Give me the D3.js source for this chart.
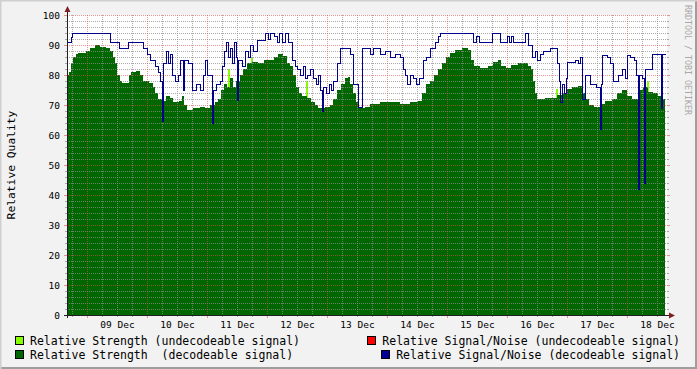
<!DOCTYPE html>
<html>
<head>
<meta charset="utf-8">
<script src="https://cdn.jsdelivr.net/npm/d3@7"></script>
<style>
  body { margin: 0; background: #f2f2f2; }
  svg { display: block; font-family: "DejaVu Sans Mono", monospace; }
  text { white-space: pre; }
</style>
</head>
<body>
<svg width="697" height="369"></svg>
<script>
// hours after 08 Dec 16:00 -> value (step changes, RRD style)
const strengthHours = [0,0.8,1.6,2.4,3.6,4.4,7.6,9.2,11.2,13.2,15.6,17.2,18.4,19.2,20,21.2,22,24.8,25.6,27.6,29.2,30.4,32.8,34.4,35.2,36.4,38.4,39.6,41.2,42.4,44.8,46,46.8,48,50.4,53.2,55.2,57.2,59.2,60.4,61.6,62.8,64,65.2,66.4,67.6,69.2,70.4,72,74,76.4,78.8,81.2,82.8,84.4,86.4,88,89.2,90.4,91.6,92.8,94,96,97.6,99.2,100.4,103.2,105.2,106.4,108,109.6,111.2,112.4,113.2,114.4,115.6,116.4,119.2,121.2,125.2,129.2,133.2,137.2,140.4,142,143.6,145.2,146.8,148.4,150,151.6,153.2,155.2,158,160.4,161.6,162.8,165.2,168.4,170.4,172.4,173.6,175.6,177.6,180.4,182.8,184.4,185.6,186.4,187.2,188,191.2,194,196,198,200,202,204.4,206.4,207.6,208.8,210.8,213.2,215.2,218,220,222,224,226,228.4,230.4,232.4,234.4,236.4,238.4,239.2];
const strengthValues = [80,81,84,86,87,87.5,88,89,90,89.5,89,88,86,84,80,78,77.3,80,81,81.5,80,78,77.5,76,74,72,71.5,73,72.5,71,71.5,73,70,68.5,69,69.5,69,70,71,72,75,77,76,79,76,78,80,82,84,84.5,84,85,85,86,87,86.5,84,83,80,76,74,73,72.5,71,70,69,69.5,70,72,75,77,79,79.3,77,74,71,69,69.5,70.5,71,71,70.5,71,71.5,74,77,78,80,82,84,86,87.5,88.5,89,88.5,85,83,82.5,83,84.5,85,83,82.5,83.5,84,84,83,82,78,74,72,72.5,72.5,73.5,74,75.5,76,76.5,74,72,70,69.5,70.5,71.5,72,74,75,73,72,75,76,74.5,74,73,72,72];

const weakHours = [0,64.4,65.2,73.6,74.4,95.6,96.4,195.6,196.4,232,232.8,239.2];
const weakValues = [0,82,0,86,0,78,0,75.5,0,78,0,0];

const snrHours = [0,1.6,2,17.2,20.8,24.4,30.4,32,33.2,35.2,36.4,37.2,38,38.4,39.6,40.4,41.2,42,43.2,44.4,45.2,46.4,46.8,48.4,50,51.6,53.2,54.4,55.2,56,58,58.4,59.6,61.2,62,62.8,63.6,64.4,65.2,66,66.8,67.6,68,68.4,70,71.2,72.4,73.2,74.4,76,79.2,80.4,81.2,82.8,84,84.8,86,87.2,88.4,90,91.2,92,93.2,94.4,95.2,96,97.2,98.4,99.6,100.4,101.2,102,102.4,103.6,104.8,105.6,106.4,108,109.2,113.2,114.4,116.4,118,121.2,122.4,125.2,127.2,129.2,131.2,133.2,134.4,135.2,136,137.2,138.4,139.6,140.8,142.4,143.6,145.2,147.2,148.4,149.2,162.4,163.6,164.8,170,173.2,176,176.8,177.6,178.4,183.2,184.4,186,187.2,188,189.2,190.4,193.2,196,196.8,197.2,198,198.8,199.6,200,203.2,204.4,205.2,206,207.2,209.2,211.6,213.2,213.6,214,216,217.2,218.4,220.4,222,223.2,224,225.2,226.8,227.6,228.4,228.8,230,230.8,231.2,234,237.2,237.6,238,239.2];
const snrValues = [91,92.5,94,91,89,91,89,87,85,83,81,78,64.5,84,88,84,87,80,78,80,85,75,85,84,75,77,75,80,85,80,64,75,77,78,83,88,91,86,89,84,91,86,71.7,85,83,88,86,90,88,91.5,94,92,94,93,91,94,91,94,91,85,83,82,80,83,79,80,82,79,77,80,75,68,76,74,77,75,78,84,89,87,77,69.5,89,87,89,87,88,86,87,86,82,80,77,80,79,77,79,85,86,89,91,93,94,91,93,91,94,91,93,91,93,91,94,90,86,88,85,87,88,89,84,78,71,77,74,79,84.5,85,84,86,72,80,77,76,62,77,86.7,86,84,78,80,82,79,86.7,86,85,80,42,80,79,44,82,87,87,69,87,87];

const yTicks = [0,10,20,30,40,50,60,70,80,90,100];
const legendLeft = ["Relative Strength (undecodeable signal)", "Relative Strength  (decodeable signal)"];
const legendRight = ["Relative Signal/Noise (undecodeable signal)", "Relative Signal/Noise (decodeable signal)"];

const start = new Date(2012, 11, 8, 16);
const end = new Date(2012, 11, 18, 16);
const toDate = h => new Date(start.getTime() + h * 3600e3);
const pack = (hs, vs) => hs.map((h, i) => ({ t: toDate(h), v: vs[i] }));

const svg = d3.select("svg");
const W = 697, H = 369;
const pLeft = 67, pRight = 667, pTop = 15, pBottom = 315;

// frame
svg.append("rect").attr("width", W).attr("height", H).attr("fill", "#f2f2f2");
svg.append("path").attr("d", `M0,${H - 0.5}H${W - 0.5}V0`).attr("fill", "none").attr("stroke", "#9e9e9e").attr("stroke-width", 3);
svg.append("path").attr("d", `M0.5,${H}V0.5H${W}`).attr("fill", "none").attr("stroke", "#cfcfcf").attr("stroke-width", 2);

const x = d3.scaleTime().domain([start, end]).range([pLeft, pRight]);
const y = d3.scaleLinear().domain([0, 100]).range([pBottom, pTop]);

svg.append("rect").attr("x", pLeft).attr("y", pTop).attr("width", pRight - pLeft).attr("height", pBottom - pTop).attr("fill", "#fff");

const area = d3.area().x(d => x(d.t)).y0(y(0)).y1(d => y(d.v)).curve(d3.curveStepAfter);

svg.append("path").datum(pack(weakHours, weakValues)).attr("d", area).attr("fill", "#88ff00").attr("shape-rendering", "crispEdges");
svg.append("path").datum(pack(strengthHours, strengthValues)).attr("d", area).attr("fill", "#006600").attr("shape-rendering", "crispEdges");

// grid
const grid = svg.append("g").attr("shape-rendering", "crispEdges");
const minorX = d3.timeHour.every(6).range(start, end).filter(d => d.getHours() !== 0);
const majorX = d3.timeDay.range(start, end);
const minorY = d3.range(0, 101, 2).filter(v => v % 10 !== 0);
const gridMinor = "rgba(143,143,143,0.75)";
const gridMajor = "rgba(222,79,79,0.6)";

grid.selectAll(".vmin").data(minorX).join("line")
  .attr("x1", d => Math.round(x(d)) + 0.5).attr("x2", d => Math.round(x(d)) + 0.5)
  .attr("y1", pTop).attr("y2", pBottom)
  .attr("stroke", gridMinor).attr("stroke-dasharray", "1,1");
grid.selectAll(".hmin").data(minorY).join("line")
  .attr("y1", d => Math.round(y(d)) + 0.5).attr("y2", d => Math.round(y(d)) + 0.5)
  .attr("x1", pLeft).attr("x2", pRight)
  .attr("stroke", gridMinor).attr("stroke-dasharray", "1,1");
grid.selectAll(".vmaj").data(majorX).join("line")
  .attr("x1", d => Math.round(x(d)) + 0.5).attr("x2", d => Math.round(x(d)) + 0.5)
  .attr("y1", pTop).attr("y2", pBottom)
  .attr("stroke", gridMajor).attr("stroke-dasharray", "1,1");
grid.selectAll(".hmaj").data(yTicks).join("line")
  .attr("y1", d => Math.round(y(d)) + 0.5).attr("y2", d => Math.round(y(d)) + 0.5)
  .attr("x1", pLeft).attr("x2", pRight)
  .attr("stroke", gridMajor).attr("stroke-dasharray", "1,1");

// little ticks outside the plot
const ticks = svg.append("g").attr("shape-rendering", "crispEdges");
minorX.forEach(d => {
  const px = Math.round(x(d)) + 0.5;
  ticks.append("line").attr("x1", px).attr("x2", px).attr("y1", pBottom).attr("y2", pBottom + 2).attr("stroke", gridMinor);
});
majorX.forEach(d => {
  const px = Math.round(x(d)) + 0.5;
  ticks.append("line").attr("x1", px).attr("x2", px).attr("y1", pBottom).attr("y2", pBottom + 3).attr("stroke", gridMajor);
});
minorY.forEach(v => {
  const py = Math.round(y(v)) + 0.5;
  ticks.append("line").attr("x1", pLeft - 2).attr("x2", pLeft).attr("y1", py).attr("y2", py).attr("stroke", gridMinor);
  ticks.append("line").attr("x1", pRight).attr("x2", pRight + 2).attr("y1", py).attr("y2", py).attr("stroke", gridMinor);
});
yTicks.forEach(v => {
  const py = Math.round(y(v)) + 0.5;
  ticks.append("line").attr("x1", pLeft - 3).attr("x2", pLeft).attr("y1", py).attr("y2", py).attr("stroke", gridMajor);
  ticks.append("line").attr("x1", pRight).attr("x2", pRight + 3).attr("y1", py).attr("y2", py).attr("stroke", gridMajor);
});

// SNR line
const line = d3.line().x(d => Math.round(x(d.t)) + 0.5).y(d => Math.round(y(d.v)) + 0.5).curve(d3.curveStepAfter);
svg.append("path").datum(pack(snrHours, snrValues)).attr("d", line)
  .attr("fill", "none").attr("stroke", "#00008c").attr("stroke-width", 1)
  .attr("shape-rendering", "crispEdges");

// axes lines + arrows
svg.append("line").attr("x1", pLeft + 0.5).attr("x2", pLeft + 0.5).attr("y1", pBottom + 3).attr("y2", 10)
  .attr("stroke", "#1f1f1f").attr("shape-rendering", "crispEdges");
svg.append("line").attr("x1", pLeft - 3).attr("x2", pRight + 4).attr("y1", pBottom + 0.5).attr("y2", pBottom + 0.5)
  .attr("stroke", "#1f1f1f").attr("shape-rendering", "crispEdges");
svg.append("path").attr("d", `M${pLeft - 2.5},12L${pLeft + 0.5},6L${pLeft + 3.5},12Z`).attr("fill", "#801f1f");
svg.append("path").attr("d", `M${pRight + 2},${pBottom - 2.5}L${pRight + 8},${pBottom + 0.5}L${pRight + 2},${pBottom + 3.5}Z`).attr("fill", "#801f1f");

// y labels
const yAxis = svg.append("g").attr("transform", `translate(${pLeft},0)`)
  .call(d3.axisLeft(y).tickValues(yTicks).tickSize(0).tickPadding(7));
yAxis.select(".domain").remove();
yAxis.selectAll("text").attr("font-family", "DejaVu Sans Mono").attr("font-size", 9.5).attr("fill", "#000");

// x labels at noon
const noons = majorX.map(d => d3.timeHour.offset(d, 12)).filter(d => d < end);
const xAxis = svg.append("g").attr("transform", `translate(0,${pBottom})`)
  .call(d3.axisBottom(x).tickValues(noons).tickFormat(d3.timeFormat("%d %b")).tickSize(0).tickPadding(6));
xAxis.select(".domain").remove();
xAxis.selectAll("text").attr("font-family", "DejaVu Sans Mono").attr("font-size", 9.5).attr("fill", "#000");

// y title
svg.append("text").attr("transform", "translate(15,165) rotate(-90)")
  .attr("text-anchor", "middle").attr("font-size", 11.3).text("Relative Quality");

// watermark
svg.append("text").attr("transform", "translate(685,60) rotate(90)")
  .attr("text-anchor", "middle").attr("font-size", 8.3).attr("fill", "#a8a8a8").text("RRDTOOL / TOBI OETIKER");

// legend
const legColorsL = ["#88ff00", "#006600"];
const legColorsR = ["#ff0000", "#000099"];
legendLeft.forEach((t, i) => {
  const ly = 341 + i * 14;
  svg.append("rect").attr("x", 15.5).attr("y", ly - 4.5).attr("width", 8).attr("height", 8)
    .attr("fill", legColorsL[i]).attr("stroke", "#000");
  svg.append("text").attr("x", 30).attr("y", ly + 4).attr("font-size", 11.5).text(t);
});
legendRight.forEach((t, i) => {
  const ly = 341 + i * 14;
  const tx = svg.append("text").attr("x", 680).attr("y", ly + 4).attr("font-size", 11.5)
    .attr("text-anchor", "end").text(t);
  const bx = tx.node().getBBox().x;
  svg.append("rect").attr("x", Math.round(bx) - 14.5).attr("y", ly - 4.5).attr("width", 8).attr("height", 8)
    .attr("fill", legColorsR[i]).attr("stroke", "#000");
});
</script>
</body>
</html>
